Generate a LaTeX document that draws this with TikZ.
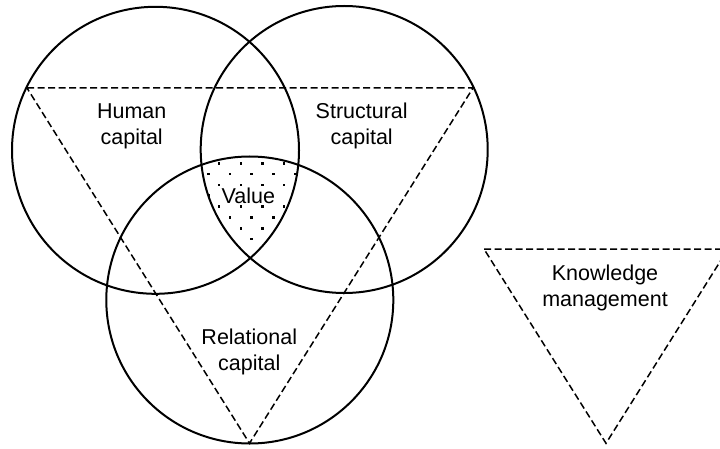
\documentclass[tikz,border=0pt]{standalone}
\usepackage{fontspec}
\setmainfont{Liberation Sans}
\newcommand{\ringw}{2pt}
\newcommand{\dashw}{1.5pt}
\newcommand{\rad}{143.5pt}

\begin{document}
\begin{tikzpicture}[x=1pt,y=-1pt]
            \tikzset{ring/.style={line width=\ringw},
                     kmline/.style={line width=\dashw, dash pattern=on 7pt off 3.5pt},
                     lbl/.style={align=center, inner sep=0pt, font=\fontsize{21.5}{26}\selectfont}}
            \useasboundingbox (0,0) rectangle (720,449);
            \clip (0,0) rectangle (720,449);
            \coordinate (hc) at (155.5,150.3);
            \coordinate (sc) at (344.2,149.5);
            \coordinate (rc) at (249.8,300);
            
            % dotted common part
            \begin{scope}
                \clip (hc) circle (\rad);
                \clip (sc) circle (\rad);
                \clip (rc) circle (\rad);
                \foreach \j in {0,...,9}
                    \foreach \m in {-1,...,5}
                        \fill ({207+21.67*\m+10.83*mod(\j+1,2)},{162+10.83*\j}) rectangle +(2.6,2.6);
            \end{scope}
            
            \draw[ring] (hc) circle (\rad);
            \draw[ring] (sc) circle (\rad);
            \draw[ring] (rc) circle (\rad);
            
            \coordinate (t1) at (27,88);
            \coordinate (t2) at (473,88);
            \coordinate (t3) at (249.5,443.3);
            \draw[kmline] (t1) -- (t2) -- (t3) -- cycle;
            
            \coordinate (k1) at (484,249);
            \coordinate (k2) at (728,249);
            \coordinate (k3) at (606,443.3);
            \draw[kmline] (k1) -- (k2) -- (k3) -- cycle;
            
            \node[lbl] (human) at (131.7,126) {Human\\capital};
            \node[lbl] (struct) at (361.7,126) {Structural\\capital};
            \node[lbl, fill=white, inner sep=1pt] (value) at (248.3,195.5) {Value};
            \node[lbl] (relat) at (249.3,351.5) {Relational\\capital};
            \node[lbl] (know) at (605,288) {Knowledge\\management};
\end{tikzpicture}
\end{document}
